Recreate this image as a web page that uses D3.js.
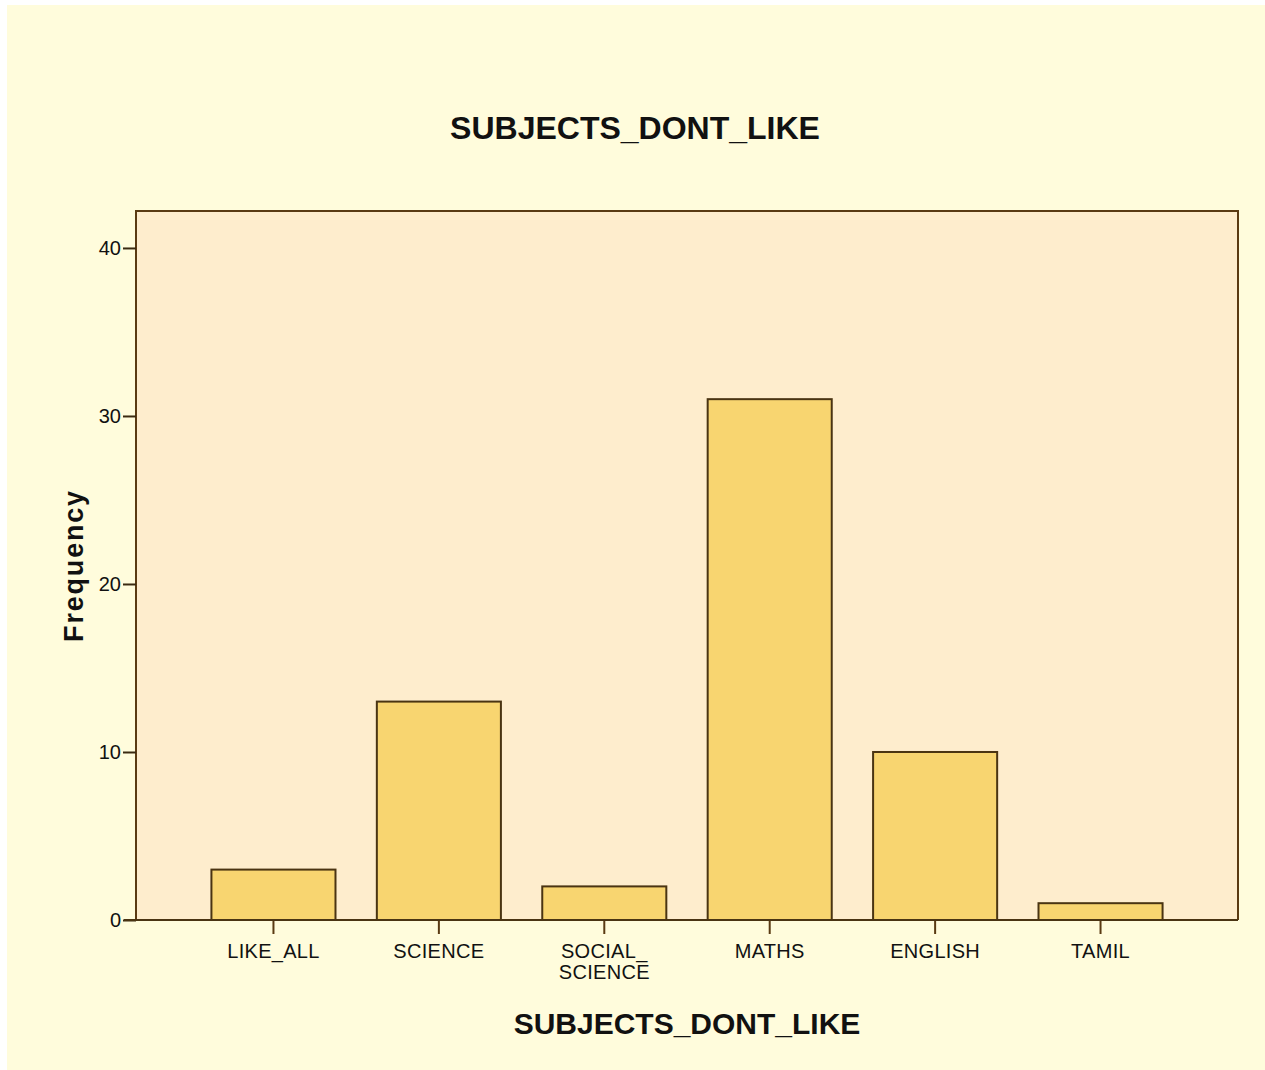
<!DOCTYPE html>
<html><head><meta charset="utf-8">
<script src="https://cdn.jsdelivr.net/npm/d3@7"></script>
<style>html,body{margin:0;padding:0;background:#fff;}svg{display:block;}</style>
</head><body>
<script>
const categories = ["LIKE_ALL","SCIENCE","SOCIAL_SCIENCE","MATHS","ENGLISH","TAMIL"];
const categoryLabels = [["LIKE_ALL"],["SCIENCE"],["SOCIAL_","SCIENCE"],["MATHS"],["ENGLISH"],["TAMIL"]];
const frequencies = [3,13,2,31,10,1];
const yTicks = [0,10,20,30,40];
const title = "SUBJECTS_DONT_LIKE";
const xTitle = "SUBJECTS_DONT_LIKE";
const yTitle = "Frequency";

const W = 1265, H = 1070;
const plot = {left:136, right:1238, top:211, bottom:920};
const FONT = "Arial, 'Liberation Sans', sans-serif";
const svg = d3.select("body").append("svg").attr("width",W).attr("height",H);
svg.append("rect").attr("x",7).attr("y",5).attr("width",W-7).attr("height",H-5).attr("fill","#FFFCDC");
svg.append("rect").attr("x",plot.left).attr("y",plot.top).attr("width",plot.right-plot.left).attr("height",plot.bottom-plot.top).attr("fill","#FEEDCD");

const x = d3.scaleBand().domain(categories).range([plot.left,plot.right]).paddingInner(0.25).paddingOuter(0.456);
const y = d3.scaleLinear().domain([0,42.2]).range([plot.bottom,plot.top]);

// bars
svg.append("g").selectAll("rect").data(categories).join("rect")
  .attr("x",d=>x(d)).attr("width",x.bandwidth())
  .attr("y",(d,i)=>y(frequencies[i])).attr("height",(d,i)=>y(0)-y(frequencies[i]))
  .attr("fill","#F8D570").attr("stroke","#4a3412").attr("stroke-width",2);

// frame
svg.append("path").attr("d",`M${plot.left},${plot.bottom}V${plot.top}H${plot.right}V${plot.bottom}`)
  .attr("fill","none").attr("stroke","#5a3a12").attr("stroke-width",2);

// y axis
const ya = svg.append("g").attr("transform",`translate(${plot.left},0)`)
  .call(d3.axisLeft(y).tickValues(yTicks).tickSize(13).tickPadding(2).tickSizeOuter(0));
ya.select(".domain").remove();
ya.selectAll("line").attr("stroke","#3a2a10").attr("stroke-width",2);
ya.selectAll("text").attr("font-family",FONT).attr("font-size",20).attr("fill","#111");

// x axis
const xa = svg.append("g").attr("transform",`translate(0,${plot.bottom})`)
  .call(d3.axisBottom(x).tickSize(14).tickSizeOuter(0).tickFormat(""));
xa.select(".domain").remove();
xa.selectAll("line").attr("stroke","#5a3a12").attr("stroke-width",2);
svg.append("line").attr("x1",plot.left-12).attr("x2",plot.right).attr("y1",plot.bottom).attr("y2",plot.bottom)
  .attr("stroke","#4a3412").attr("stroke-width",2);
const xl = svg.append("g");
categories.forEach((c,i)=>{
  const cx = x(c)+x.bandwidth()/2;
  const t = xl.append("text").attr("x",cx).attr("y",plot.bottom+38)
    .attr("text-anchor","middle").attr("font-family",FONT).attr("font-size",20).attr("letter-spacing",0.3).attr("fill","#111");
  categoryLabels[i].forEach((ln,j)=>t.append("tspan").attr("x",cx).attr("dy",j?21:0).text(ln));
});

// titles
svg.append("text").attr("x",635).attr("y",139).attr("text-anchor","middle")
  .attr("font-family",FONT).attr("font-weight","bold").attr("font-size",32).attr("fill","#111").text(title);
svg.append("text").attr("x",(plot.left+plot.right)/2).attr("y",1034).attr("text-anchor","middle")
  .attr("font-family",FONT).attr("font-weight","bold").attr("font-size",30).attr("fill","#111").text(xTitle);
svg.append("text").attr("transform",`translate(83,${(plot.top+plot.bottom)/2}) rotate(-90)`).attr("text-anchor","middle")
  .attr("font-family",FONT).attr("font-weight","bold").attr("font-size",27).attr("letter-spacing",1.8).attr("fill","#111").text(yTitle);
</script>
</body></html>
